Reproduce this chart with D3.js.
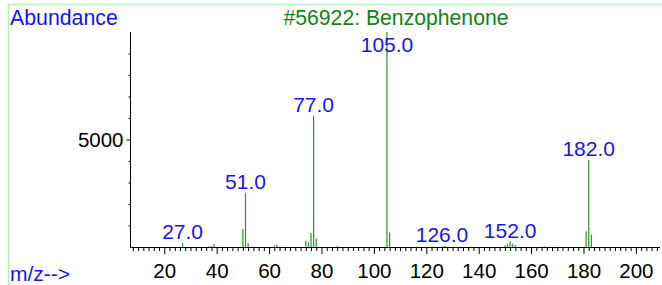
<!DOCTYPE html>
<html>
<head>
<meta charset="utf-8">
<script src="https://cdn.jsdelivr.net/npm/d3@7"></script>
<style>
  html, body { margin: 0; padding: 0; background: #fff; }
  svg { display: block; font-family: "Liberation Sans", Arial, sans-serif; }
</style>
</head>
<body>
<svg id="chart" width="662" height="285"></svg>
<script>
// ---- data ----
const mzValues = [27, 37, 38, 39, 50, 51, 52, 62, 63, 74, 75, 76, 77, 78, 86, 105, 106, 126, 127, 150, 151, 152, 153, 154, 165, 181, 182, 183];
const abundances = [190, 30, 50, 140, 850, 2510, 170, 70, 110, 290, 230, 650, 6090, 390, 30, 9999, 680, 40, 30, 80, 155, 250, 155, 80, 40, 730, 4050, 575];
const labeledPeaks = [27, 51, 77, 105, 126, 152, 182];
const xMajorTicks = [20, 40, 60, 80, 100, 120, 140, 160, 180, 200];
const yMajorTicks = [5000];
const yMinorTicks = [1000, 2000, 3000, 4000, 6000, 7000, 8000, 9000];
const titleText = "#56922: Benzophenone";
const yAxisTitle = "Abundance";
const xAxisTitle = "m/z-->";

// ---- layout ----
const svg = d3.select("#chart");
const blue = "#1414ee";
const green = "#118411";
const peakGreen = "#2a962a";
const frameGreen = "#b6f0b6";

const x = d3.scaleLinear().domain([7.3, 209.2]).range([131, 660]);
const y = d3.scaleLinear().domain([0, 9999]).range([247, 32]);

// frame lines
svg.append("line").attr("x1", 8).attr("x2", 662).attr("y1", 4.5).attr("y2", 4.5)
  .attr("stroke", frameGreen).attr("stroke-width", 1.5);
svg.append("line").attr("x1", 8.5).attr("x2", 8.5).attr("y1", 4).attr("y2", 285)
  .attr("stroke", frameGreen).attr("stroke-width", 1.5);

// peaks
const peaks = mzValues.map((m, i) => ({ mz: m, v: abundances[i] }));
svg.append("g").selectAll("line").data(peaks).join("line")
  .attr("x1", d => x(d.mz)).attr("x2", d => x(d.mz))
  .attr("y1", y(0)).attr("y2", d => y(d.v))
  .attr("stroke", peakGreen).attr("stroke-width", 1.2);

// x axis: minor + major
const minorX = d3.range(8, 210, 2).filter(v => v % 20 !== 0);
const gxMinor = svg.append("g").attr("transform", `translate(0,${y(0)})`)
  .call(d3.axisBottom(x).tickValues(minorX).tickSize(4).tickSizeOuter(0).tickFormat(""));
gxMinor.select(".domain").remove();
const gx = svg.append("g").attr("transform", `translate(0,${y(0)})`)
  .call(d3.axisBottom(x).tickValues(xMajorTicks).tickSize(7).tickSizeOuter(0));
gx.select(".domain").attr("d", `M${x.range()[0] - 1},0.5H${x.range()[1]}`);
gx.selectAll("text").attr("y", 31).attr("dy", null)
  .attr("font-size", 20.5).attr("fill", "#000").attr("font-family", "Liberation Sans, Arial, sans-serif");
svg.selectAll(".tick line").attr("stroke", "#000");

// y axis
const gyMinor = svg.append("g").attr("transform", "translate(130.5,0)")
  .call(d3.axisLeft(y).tickValues(yMinorTicks).tickSize(2).tickSizeOuter(0).tickFormat(""));
gyMinor.select(".domain").remove();
const gy = svg.append("g").attr("transform", "translate(130.5,0)")
  .call(d3.axisLeft(y).tickValues(yMajorTicks).tickSize(4).tickSizeOuter(0).tickPadding(3).tickFormat(d3.format("d")));
gy.select(".domain").attr("d", `M0,${y.range()[1]}V${y.range()[0]}`);
gy.selectAll("text").attr("font-size", 20.5).attr("fill", "#000")
  .attr("font-family", "Liberation Sans, Arial, sans-serif");

// peak labels
svg.append("g").selectAll("text").data(labeledPeaks).join("text")
  .attr("x", d => x(d))
  .attr("y", d => Math.max(y(abundances[mzValues.indexOf(d)]) - 4, 52))
  .attr("text-anchor", "middle")
  .attr("font-size", 21)
  .attr("fill", blue)
  .text(d => d.toFixed(1));

// titles
svg.append("text").attr("x", 10).attr("y", 25).attr("font-size", 21.3).attr("fill", blue).text(yAxisTitle);
svg.append("text").attr("x", 396).attr("y", 25).attr("text-anchor", "middle")
  .attr("font-size", 21.2).attr("fill", green).text(titleText);
svg.append("text").attr("x", 10).attr("y", 281).attr("font-size", 21).attr("fill", blue).text(xAxisTitle);
</script>
</body>
</html>
